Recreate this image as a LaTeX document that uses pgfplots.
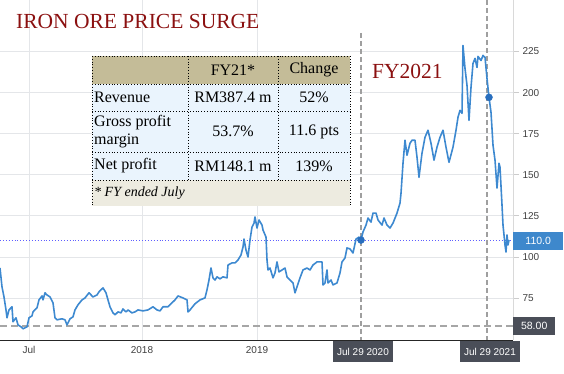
\documentclass[border=0pt]{standalone}
\usepackage{pgfplots}
\usepackage{pgfplotstable}
\pgfplotsset{compat=1.18}
\usepackage{fontspec}
\setmainfont{Liberation Serif}
\newfontfamily\sansf{Liberation Sans}
\definecolor{lineblue}{RGB}{61,137,208}
\definecolor{dotblue}{RGB}{40,110,190}
\definecolor{boxblue}{RGB}{62,136,204}
\definecolor{boxdark}{RGB}{74,78,88}
\definecolor{titlered}{RGB}{139,16,16}
\definecolor{tanhead}{RGB}{196,188,152}
\definecolor{rowblue}{RGB}{234,244,253}
\definecolor{footbg}{RGB}{237,235,224}
\definecolor{gridc}{RGB}{228,230,233}
\definecolor{hline}{RGB}{95,95,255}

\pgfplotstableread{
x y
0 93.3
2 81.8
4 75.7
6 67.8
7 63.0
9 67.8
12 69.7
13 60.6
16 63.0
18 58.7
21 57.5
23 56.3
27 57.5
29 63.0
32 64.2
33 66.6
37 69.1
39 73.9
42 76.3
43 73.9
45 78.2
47 76.9
50 75.7
53 72.1
55 63.0
57 61.8
62 62.4
65 61.8
67 58.7
70 62.4
73 63.6
75 67.8
78 70.9
82 73.9
85 75.1
89 78.2
93 75.7
97 76.9
99 78.8
103 81.2
106 78.2
108 73.9
110 69.7
113 66.0
115 64.8
118 66.6
121 66.0
123 68.4
126 66.6
128 67.8
132 66.0
135 66.6
138 67.8
143 67.2
148 67.8
153 69.7
157 67.8
160 67.2
163 69.7
168 69.7
175 73.9
178 76.3
183 75.1
187 73.9
188 66.6
190 67.8
195 71.5
200 73.9
205 75.1
207 80.0
209 86.0
211 93.3
213 87.3
215 86.0
217 87.9
220 86.7
223 87.9
227 87.3
228 95.1
232 96.4
235 96.4
238 98.2
241 101.2
243 106.1
244 110.9
246 104.2
248 100.0
250 110.3
252 118.2
254 120.6
255 124.3
257 117.6
259 122.5
262 119.4
263 116.4
266 112.1
267 98.2
268 92.1
270 93.3
273 87.3
275 90.3
277 97.0
279 90.9
282 92.1
285 93.3
287 87.9
290 86.0
293 84.2
295 78.2
297 81.8
300 87.3
303 92.1
307 93.3
310 92.1
313 95.1
317 97.0
322 97.0
323 83.0
325 84.2
327 92.1
328 84.2
331 86.0
333 83.0
337 84.2
340 90.3
342 97.0
345 99.4
347 105.5
350 104.9
353 102.4
356 110.9
359 112.1
361 110.3
363 115.2
366 119.4
368 123.7
371 121.2
373 126.7
376 126.7
378 122.5
382 119.4
384 123.7
387 119.4
390 117.6
393 120.6
397 126.7
400 132.8
401 138.8
403 157.0
405 171.0
407 161.9
410 169.2
412 171.0
415 171.0
417 160.7
419 148.5
422 163.1
425 172.8
428 177.1
431 169.2
434 158.9
437 166.8
440 172.8
443 177.1
446 166.8
449 157.6
453 166.8
456 177.1
458 185.0
460 189.2
462 187.4
463 228.6
465 214.7
467 204.4
469 183.1
471 203.2
473 217.7
475 220.8
477 215.3
478 222.0
481 219.5
483 222.6
485 221.4
487 208.6
489 197.1
491 188.0
493 168.0
495 158.9
497 141.9
499 157.0
500 154.6
502 131.6
503 119.4
505 107.3
506 103.0
507 113.4
508 107.3
509 110.3
}\ironore

\begin{document}
\begin{tikzpicture}
\useasboundingbox (0,0) rectangle (564pt,373pt);
\begin{axis}[
  at={(0pt,33pt)}, anchor=south west,
  scale only axis, width=513pt, height=340pt,
  xmin=0, xmax=513, ymin=49.5, ymax=256.3,
  clip=false,
  axis x line*=bottom, axis y line*=right,
  x axis line style={draw=black!85, line width=1pt},
  y axis line style={draw=gray!30, line width=0.8pt},
  xtick={29,142,257}, xticklabels={Jul,2018,2019},
  ytick={75,100,...,225},
  ymajorgrids, xmajorgrids,
  grid style={draw=gridc, line width=0.8pt},
  major tick length=6pt, tick align=outside,
  xtick style={draw=none},
  ytick style={draw=gray!40, line width=0.8pt},
  tick label style={font=\sansf\fontsize{10}{12}\selectfont, text=black!75},
  xticklabel style={yshift=3pt},
  /pgf/number format/assume math mode=true,
]
\addplot[draw=hline, dotted, line width=0.9pt] coordinates {(0,110) (513,110)};
\addplot[draw=gray!70, dash pattern=on 7pt off 4pt, line width=1.3pt] coordinates {(0,58) (513,58)};
\addplot[draw=gray!75, dash pattern=on 5pt off 3pt, line width=1.3pt] coordinates {(361,236.3) (361,49.5)};
\addplot[draw=gray!75, dash pattern=on 5pt off 3pt, line width=1.3pt] coordinates {(487,256.3) (487,49.5)};
\addplot[draw=lineblue, line width=1.6pt, line join=round] table[x=x,y=y] {\ironore};
\addplot[only marks, mark=*, mark size=3.5pt, color=dotblue] coordinates {(361,110.3) (489,197.1)};
\node[anchor=west, fill=boxblue, text=white, minimum width=50pt, minimum height=18pt, inner sep=0pt, font=\sansf\fontsize{10.5}{12}\selectfont] at (axis cs:513,110) {110.0};
\node[anchor=west, fill=boxdark, text=white, minimum width=42pt, minimum height=18pt, inner sep=0pt, font=\sansf\fontsize{10.5}{12}\selectfont] at (axis cs:513,58) {58.00};
\node[anchor=north, fill=boxdark, text=white, minimum width=60pt, minimum height=21pt, inner sep=0pt, font=\sansf\fontsize{10}{12}\selectfont] at (axis cs:363,48.9) {Jul 29 2020};
\node[anchor=north, fill=boxdark, text=white, minimum width=60pt, minimum height=21pt, inner sep=0pt, font=\sansf\fontsize{10}{12}\selectfont] at (axis cs:490,48.9) {Jul 29 2021};
\end{axis}
\begin{scope}[shift={(0,373pt)}, x=1pt, y=-1pt]
  \node[anchor=west, inner sep=0pt, text=titlered, font=\fontsize{21.5}{24}\selectfont] at (16,21) {IRON ORE PRICE SURGE};
  \node[anchor=west, inner sep=0pt, text=titlered, font=\fontsize{21.5}{24}\selectfont] at (372,71) {FY2021};
  \fill[tanhead] (92,56) rectangle (350,84);
  \fill[rowblue] (92,84) rectangle (350,180);
  \fill[footbg] (92,180) rectangle (350,206);
  \draw[black, dotted, line width=0.8pt]
    (92,56) -- (350,56)
    (92,84) -- (350,84)
    (92,111) -- (350,111)
    (92,152) -- (350,152)
    (92,180) -- (350,180)
    (92,56) -- (92,206)
    (350,56) -- (350,206)
    (188,56) -- (188,180)
    (278,56) -- (278,180);
  \begin{scope}[every node/.style={inner sep=0pt, font=\fontsize{16}{17.5}\selectfont}]
    \node at (233,70) {FY21*};
    \node at (314,70) {Change};
    \node[anchor=west] at (94,97.5) {Revenue};
    \node at (233,97.5) {RM387.4 m};
    \node at (314,97.5) {52\%};
    \node[anchor=west, align=left] at (94,131.5) {Gross profit\\margin};
    \node at (233,131.5) {53.7\%};
    \node at (314,131.5) {11.6 pts};
    \node[anchor=west] at (94,166) {Net profit};
    \node at (233,166) {RM148.1 m};
    \node at (314,166) {139\%};
    \node[anchor=west, font=\itshape\fontsize{14}{16}\selectfont] at (94,193) {* FY ended July};
  \end{scope}
\end{scope}
\end{tikzpicture}
\end{document}
